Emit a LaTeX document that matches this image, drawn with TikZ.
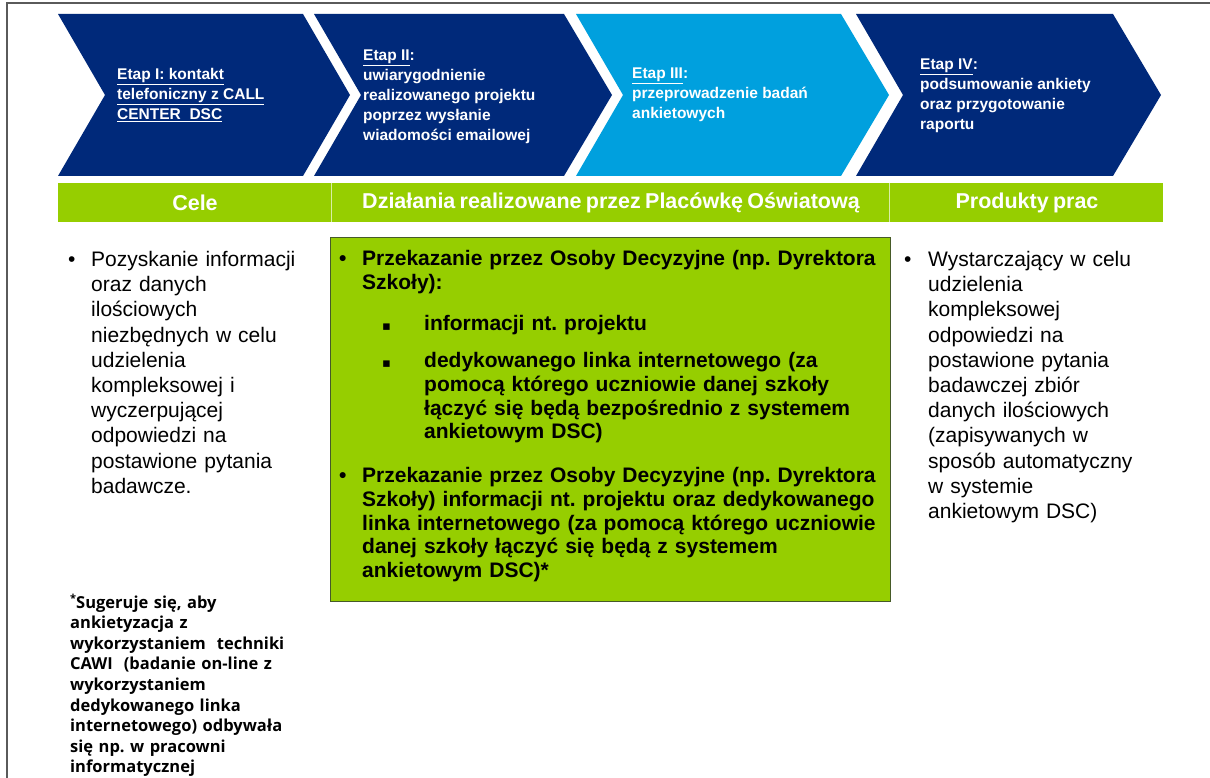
\documentclass[tikz,border=0pt]{standalone}
\usepackage{fontspec}
\setmainfont{Liberation Sans}
\newfontfamily\fnfont{Open Sans}
\newfontfamily\symfont{DejaVu Sans}
\definecolor{dblue}{RGB}{0,41,122}
\definecolor{lblue}{RGB}{0,160,222}
\definecolor{lgreen}{RGB}{150,206,0}
\definecolor{boxedge}{RGB}{70,90,40}
\definecolor{framegray}{RGB}{90,90,90}
\frenchspacing
\newcommand{\tightspaces}{\spaceskip=4.3pt plus 1pt\relax}
\begin{document}
\begin{tikzpicture}[x=1pt,y=-1pt,
  chevtext/.style={text=white, font=\bfseries\fontsize{15.5}{20}\selectfont, anchor=west, align=left, inner sep=0pt},
  headtext/.style={text=white, font=\bfseries\fontsize{21.5}{24}\selectfont, inner sep=0pt},
  coltext/.style={font=\fontsize{21}{25.2}\selectfont, anchor=base west, inner sep=0pt, text width=260pt, align=left},
  midtext/.style={font=\bfseries\fontsize{21}{23.8}\selectfont, anchor=base west, inner sep=0pt, text width=540pt, align=left},
  bul/.style={anchor=base west, inner sep=0pt},
  fntext/.style={font=\fnfont\bfseries\fontsize{16.5}{20.6}\selectfont, anchor=base west, inner sep=0pt, text width=260pt, align=left}
]
\useasboundingbox (0,0) rectangle (1210,778);
\fill[white] (0,0) rectangle (1210,778);
\draw[framegray, line width=1.2pt] (7,778) -- (7,3) -- (1210,3);

% chevrons
\fill[dblue] (58,14) -- (303,14) -- (350,95) -- (303,176) -- (58,176) -- (105,95) -- cycle;
\fill[dblue] (314,14) -- (564,14) -- (612,95) -- (564,176) -- (314,176) -- (361,95) -- cycle;
\fill[lblue] (576,14) -- (841,14) -- (889,95) -- (841,176) -- (576,176) -- (623,95) -- cycle;
\fill[dblue] (856,14) -- (1113,14) -- (1161,95) -- (1113,176) -- (856,176) -- (903,95) -- cycle;

\node[chevtext] (c1) at (117,95) {\underline{Etap I: kontakt}\\\underline{telefoniczny z CALL}\\\underline{CENTER\ \ DSC}};
\node[chevtext] (c2) at (363,97) {\underline{Etap II}:\\uwiarygodnienie\\realizowanego projektu\\poprzez wysłanie\\wiadomości emailowej};
\node[chevtext] (c3) at (632,95) {\underline{Etap III}:\\przeprowadzenie badań\\ankietowych};
\node[chevtext] (c4) at (920,96) {\underline{Etap IV}:\\podsumowanie ankiety\\oraz przygotowanie\\raportu};

% header bar
\fill[lgreen] (58,183) rectangle (1163,222);
\draw[white!65!lgreen, line width=1pt] (331,183) -- (331,222) (889,183) -- (889,222);
\node[headtext] (h1) at (195,203) {Cele};
\node[headtext] (h2) at (611,203) {\tightspaces Działania realizowane przez Placówkę Oświatową};
\node[headtext] (h3) at (1027,203) {\tightspaces Produkty prac};

% left column
\node[bul, font=\fontsize{21}{25.2}\selectfont] (lb) at (68,266.5) {•};
\node[coltext] (lt) at (91,266.5) {Pozyskanie informacji\\oraz danych\\ilościowych\\niezbędnych w celu\\udzielenia\\kompleksowej i\\wyczerpującej\\odpowiedzi na\\postawione pytania\\badawcze.};

% footnote
\node[fntext] (fn) at (70,608) {\raisebox{0.35em}{\fontsize{11}{11}\selectfont *}Sugeruje się, aby\\ankietyzacja z\\wykorzystaniem\ \ techniki\\CAWI\ \ (badanie on-line z\\wykorzystaniem\\dedykowanego linka\\internetowego) odbywała\\się np. w pracowni\\informatycznej};

% middle box
\node[draw=boxedge, fill=lgreen, line width=1pt, minimum width=560pt, minimum height=364pt, anchor=north west, inner sep=0pt] (midbox) at (330,237) {};
\node[bul, font=\bfseries\fontsize{21}{23.8}\selectfont] (mb1) at (339,265.5) {•};
\node[midtext] (m1) at (362,265.5) {Przekazanie przez Osoby Decyzyjne (np. Dyrektora\\Szkoły):};
\node[bul, font=\symfont\fontsize{13}{13}\selectfont] (sb1) at (382,330.5) {▪};
\node[midtext, text width=460pt] (s1) at (424,330.5) {informacji nt. projektu};
\node[bul, font=\symfont\fontsize{13}{13}\selectfont] (sb2) at (382,367.5) {▪};
\node[midtext, text width=460pt] (s2) at (424,367.5) {dedykowanego linka internetowego (za\\pomocą którego uczniowie danej szkoły\\łączyć się będą bezpośrednio z systemem\\ankietowym DSC)};
\node[bul, font=\bfseries\fontsize{21}{23.8}\selectfont] (mb2) at (339,482.5) {•};
\node[midtext] (m2) at (362,482.5) {Przekazanie przez Osoby Decyzyjne (np. Dyrektora\\Szkoły) informacji nt. projektu oraz dedykowanego\\linka internetowego (za pomocą którego uczniowie\\danej szkoły łączyć się będą z systemem\\ankietowym DSC)*};

% right column
\node[bul, font=\fontsize{21}{25.2}\selectfont] (rb) at (904,266.5) {•};
\node[coltext] (rt) at (928,266.5) {Wystarczający w celu\\udzielenia\\kompleksowej\\odpowiedzi na\\postawione pytania\\badawczej zbiór\\danych ilościowych\\(zapisywanych w\\sposób automatyczny\\w systemie\\ankietowym DSC)};
\end{tikzpicture}
\end{document}
